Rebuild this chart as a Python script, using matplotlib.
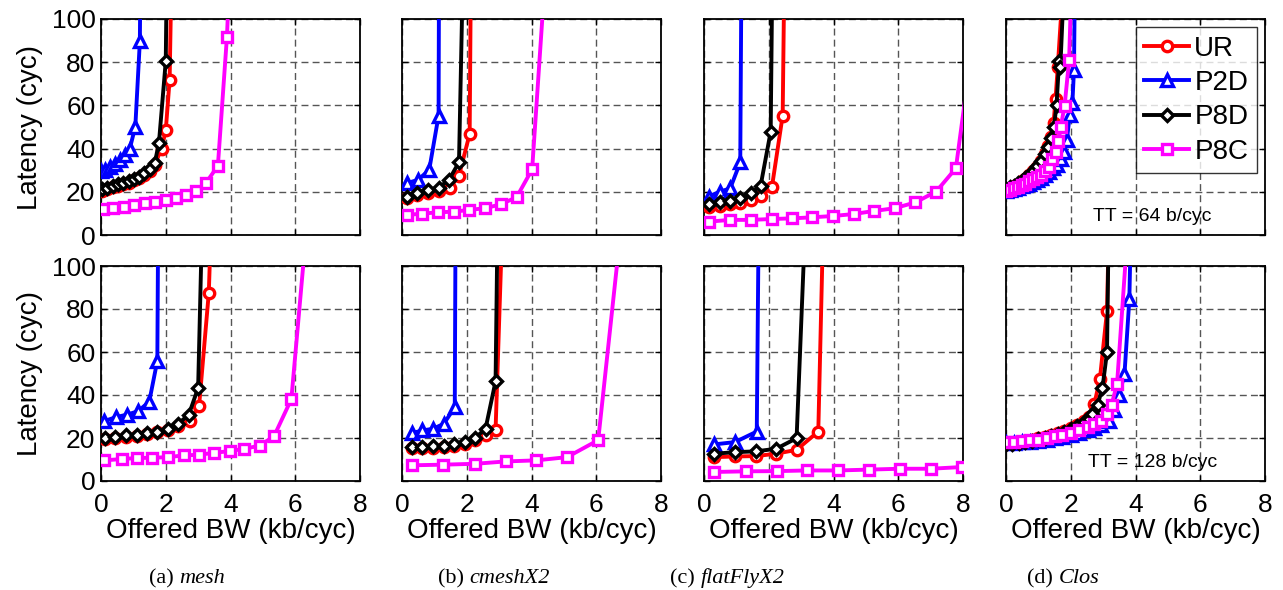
import numpy as np
import matplotlib
matplotlib.use('Agg')
import matplotlib.pyplot as plt

plt.rcParams['font.family'] = ['Liberation Sans', 'DejaVu Sans']

# ---------------- data ----------------
series_names = ['UR', 'P2D', 'P8D', 'P8C']
panel_names = ['mesh', 'cmeshX2', 'flatFlyX2', 'Clos']
panel_tags = ['(a)', '(b)', '(c)', '(d)']
row_notes = ['TT = 64 b/cyc', 'TT = 128 b/cyc']
x_ticks = [0, 2, 4, 6, 8]
y_ticks = [0, 20, 40, 60, 80, 100]

# top row: TT = 64 b/cyc   (last point of a curve sits above the 100 limit)
mesh64_ur_x = [0.02, 0.19, 0.36, 0.52, 0.69, 0.85, 1.02, 1.18, 1.33, 1.51, 1.66, 1.87, 2.0, 2.12, 2.16]
mesh64_ur_y = [20.5, 21.2, 22.0, 22.8, 23.6, 24.3, 25.3, 26.3, 27.9, 29.7, 32.5, 40.0, 48.4, 71.9, 106]
mesh64_p2d_x = [0.0, 0.12, 0.28, 0.43, 0.58, 0.74, 0.89, 1.06, 1.20, 1.21]
mesh64_p2d_y = [29.5, 30.2, 31.7, 33.0, 34.8, 37.0, 40.0, 50.2, 89.6, 106]
mesh64_p8d_x = [0.02, 0.19, 0.36, 0.52, 0.69, 0.85, 1.02, 1.18, 1.33, 1.51, 1.66, 1.79, 2.0, 2.02]
mesh64_p8d_y = [21.2, 21.9, 22.7, 23.5, 24.3, 25.0, 26.0, 27.0, 28.6, 30.4, 33.2, 42.8, 80.4, 106]
mesh64_p8c_x = [0.07, 0.38, 0.71, 1.03, 1.35, 1.68, 2.0, 2.33, 2.64, 2.94, 3.25, 3.61, 3.89, 3.93]
mesh64_p8c_y = [11.9, 12.5, 13.1, 13.9, 14.7, 15.5, 16.2, 17.2, 18.5, 20.4, 24.3, 32.0, 91.7, 106]

cmesh64_ur_x = [0.15, 0.47, 0.8, 1.13, 1.47, 1.76, 2.09, 2.12]
cmesh64_ur_y = [17.0, 18.3, 19.5, 20.5, 21.6, 27.5, 46.8, 106]
cmesh64_p2d_x = [0.15, 0.49, 0.84, 1.13, 1.14]
cmesh64_p2d_y = [24.0, 25.5, 30.1, 55.3, 106]
cmesh64_p8d_x = [0.15, 0.47, 0.8, 1.13, 1.45, 1.76, 1.86]
cmesh64_p8d_y = [17.8, 19.3, 20.9, 21.9, 25.5, 33.7, 106]
cmesh64_p8c_x = [0.15, 0.63, 1.11, 1.6, 2.07, 2.57, 3.05, 3.54, 4.02, 4.36]
cmesh64_p8c_y = [9.3, 9.9, 10.5, 10.8, 11.6, 12.4, 14.2, 17.5, 30.4, 106]

ffly64_ur_x = [0.16, 0.48, 0.79, 1.12, 1.45, 1.75, 2.1, 2.43, 2.47]
ffly64_ur_y = [13.1, 13.6, 14.2, 14.9, 16.0, 18.1, 22.4, 55.3, 106]
ffly64_p2d_x = [0.14, 0.48, 0.81, 1.12, 1.15]
ffly64_p2d_y = [17.8, 20.0, 21.6, 33.7, 106]
ffly64_p8d_x = [0.16, 0.48, 0.79, 1.12, 1.45, 1.75, 2.06, 2.1]
ffly64_p8d_y = [14.4, 15.1, 15.9, 17.0, 19.3, 22.9, 47.9, 106]
ffly64_p8c_x = [0.16, 0.81, 1.45, 2.09, 2.73, 3.35, 3.99, 4.62, 5.24, 5.89, 6.53, 7.17, 7.78, 8.45]
ffly64_p8c_y = [6.2, 7.0, 7.0, 7.4, 7.7, 8.2, 8.8, 9.7, 11.1, 12.4, 15.1, 20.1, 30.9, 106]

clos64_ur_x = [0.0, 0.12, 0.24, 0.36, 0.48, 0.6, 0.72, 0.84, 0.96, 1.08, 1.2, 1.3, 1.4, 1.47, 1.53, 1.6, 1.72]
clos64_ur_y = [21.0, 21.8, 22.7, 23.7, 24.8, 26.1, 27.6, 29.4, 31.6, 34.3, 37.6, 41.0, 45.5, 52.0, 63.0, 78.0, 106]
clos64_p2d_x = [0.0, 0.12, 0.24, 0.36, 0.48, 0.6, 0.72, 0.84, 0.96, 1.08, 1.2, 1.32, 1.44, 1.56, 1.69, 1.79, 1.88, 1.97, 2.05, 2.1, 2.12]
clos64_p2d_y = [20.5, 20.9, 21.4, 21.9, 22.5, 23.1, 23.8, 24.6, 25.5, 26.6, 27.8, 29.2, 30.8, 32.5, 35.0, 38.6, 44.0, 55.6, 61.0, 76.5, 106]
clos64_p8d_x = [0.0, 0.12, 0.24, 0.36, 0.48, 0.6, 0.72, 0.84, 0.96, 1.08, 1.2, 1.3, 1.4, 1.48, 1.56, 1.64, 1.68, 1.76]
clos64_p8d_y = [21.3, 22.0, 22.9, 23.9, 25.0, 26.3, 27.8, 29.6, 31.8, 34.4, 37.6, 40.8, 45.0, 50.0, 60.0, 80.4, 78.0, 106]
clos64_p8c_x = [0.0, 0.12, 0.24, 0.36, 0.48, 0.6, 0.72, 0.84, 0.96, 1.08, 1.22, 1.33, 1.43, 1.53, 1.62, 1.69, 1.81, 1.95, 2.0]
clos64_p8c_y = [20.5, 21.0, 21.6, 22.3, 23.0, 23.8, 24.8, 25.8, 26.9, 28.0, 29.4, 31.7, 35.0, 38.6, 43.3, 50.0, 59.8, 81.0, 106]

# bottom row: TT = 128 b/cyc
mesh128_ur_x = [0.12, 0.43, 0.77, 1.1, 1.43, 1.74, 2.07, 2.38, 2.74, 3.03, 3.33, 3.37]
mesh128_ur_y = [19.4, 19.9, 20.6, 21.1, 21.8, 22.6, 23.8, 25.8, 28.1, 35.0, 87.6, 106]
mesh128_p2d_x = [0.09, 0.46, 0.81, 1.15, 1.49, 1.74, 1.76]
mesh128_p2d_y = [27.8, 29.7, 30.9, 32.5, 36.9, 56.0, 106]
mesh128_p8d_x = [0.12, 0.43, 0.77, 1.1, 1.43, 1.74, 2.07, 2.38, 2.71, 3.0, 3.1]
mesh128_p8d_y = [19.9, 20.4, 21.2, 21.6, 22.3, 23.0, 24.3, 26.6, 30.8, 43.3, 106]
mesh128_p8c_x = [0.09, 0.64, 1.1, 1.59, 2.07, 2.55, 3.02, 3.49, 3.97, 4.43, 4.92, 5.35, 5.88, 6.28]
mesh128_p8c_y = [9.6, 10.2, 10.7, 10.8, 11.1, 11.9, 12.2, 13.1, 13.9, 15.0, 16.5, 21.0, 38.1, 106]

cmesh128_ur_x = [0.31, 0.63, 0.96, 1.29, 1.6, 1.94, 2.25, 2.58, 2.89, 3.07]
cmesh128_ur_y = [15.2, 15.2, 15.5, 15.9, 16.4, 17.3, 19.0, 21.5, 23.8, 106]
cmesh128_p2d_x = [0.31, 0.63, 0.96, 1.29, 1.63, 1.65]
cmesh128_p2d_y = [22.3, 23.5, 24.3, 26.6, 34.3, 106]
cmesh128_p8d_x = [0.31, 0.63, 0.96, 1.29, 1.6, 1.94, 2.25, 2.58, 2.89, 2.94]
cmesh128_p8d_y = [15.8, 15.8, 16.1, 16.5, 17.0, 18.1, 19.9, 24.3, 46.4, 106]
cmesh128_p8c_x = [0.31, 1.27, 2.25, 3.2, 4.15, 5.1, 6.06, 6.68]
cmesh128_p8c_y = [7.3, 7.6, 8.0, 9.1, 9.6, 11.1, 19.0, 106]

ffly128_ur_x = [0.32, 0.96, 1.61, 2.23, 2.86, 3.53, 3.66]
ffly128_ur_y = [11.1, 11.4, 11.6, 12.7, 14.5, 23.0, 106]
ffly128_p2d_x = [0.3, 0.96, 1.63, 1.68]
ffly128_p2d_y = [17.0, 18.1, 23.0, 106]
ffly128_p8d_x = [0.32, 0.96, 1.61, 2.23, 2.86, 3.09]
ffly128_p8d_y = [12.7, 13.4, 13.8, 15.0, 19.9, 106]
ffly128_p8c_x = [0.32, 1.3, 2.25, 3.17, 4.14, 5.1, 6.04, 7.0, 7.97]
ffly128_p8c_y = [4.2, 4.5, 4.6, 4.9, 4.9, 5.3, 5.7, 5.7, 6.5]

clos128_ur_x = [0.0, 0.2, 0.4, 0.6, 0.8, 1.0, 1.2, 1.4, 1.6, 1.8, 2.0, 2.2, 2.4, 2.55, 2.73, 2.9, 3.12, 3.16]
clos128_ur_y = [17.4, 17.8, 18.2, 18.7, 19.2, 19.8, 20.5, 21.3, 22.2, 23.3, 24.5, 26.0, 27.8, 30.0, 35.9, 47.4, 79.0, 106]
clos128_p2d_x = [0.0, 0.24, 0.49, 0.75, 1.0, 1.26, 1.5, 1.74, 2.0, 2.25, 2.52, 2.73, 2.93, 3.19, 3.35, 3.5, 3.66, 3.81, 3.84]
clos128_p2d_y = [17.5, 17.7, 18.0, 18.3, 18.7, 19.2, 19.8, 20.5, 21.3, 22.3, 23.5, 24.8, 26.0, 28.1, 32.8, 40.2, 49.8, 84.5, 106]
clos128_p8d_x = [0.0, 0.2, 0.4, 0.6, 0.8, 1.0, 1.2, 1.4, 1.6, 1.8, 2.0, 2.2, 2.4, 2.55, 2.67, 2.83, 2.98, 3.12, 3.16]
clos128_p8d_y = [17.0, 17.4, 17.8, 18.3, 18.8, 19.4, 20.1, 20.9, 21.8, 22.9, 24.1, 25.6, 27.3, 29.0, 31.2, 35.5, 43.3, 60.0, 106]
clos128_p8c_x = [0.0, 0.24, 0.49, 0.75, 1.0, 1.26, 1.5, 1.74, 2.0, 2.25, 2.52, 2.73, 2.93, 3.12, 3.26, 3.43, 3.71]
clos128_p8c_y = [18.2, 18.2, 18.7, 18.9, 19.2, 20.0, 20.7, 21.5, 22.3, 23.5, 25.0, 26.6, 27.8, 31.2, 35.5, 45.1, 106]

rows = [
    [[(mesh64_ur_x, mesh64_ur_y), (mesh64_p2d_x, mesh64_p2d_y), (mesh64_p8d_x, mesh64_p8d_y), (mesh64_p8c_x, mesh64_p8c_y)],
     [(cmesh64_ur_x, cmesh64_ur_y), (cmesh64_p2d_x, cmesh64_p2d_y), (cmesh64_p8d_x, cmesh64_p8d_y), (cmesh64_p8c_x, cmesh64_p8c_y)],
     [(ffly64_ur_x, ffly64_ur_y), (ffly64_p2d_x, ffly64_p2d_y), (ffly64_p8d_x, ffly64_p8d_y), (ffly64_p8c_x, ffly64_p8c_y)],
     [(clos64_ur_x, clos64_ur_y), (clos64_p2d_x, clos64_p2d_y), (clos64_p8d_x, clos64_p8d_y), (clos64_p8c_x, clos64_p8c_y)]],
    [[(mesh128_ur_x, mesh128_ur_y), (mesh128_p2d_x, mesh128_p2d_y), (mesh128_p8d_x, mesh128_p8d_y), (mesh128_p8c_x, mesh128_p8c_y)],
     [(cmesh128_ur_x, cmesh128_ur_y), (cmesh128_p2d_x, cmesh128_p2d_y), (cmesh128_p8d_x, cmesh128_p8d_y), (cmesh128_p8c_x, cmesh128_p8c_y)],
     [(ffly128_ur_x, ffly128_ur_y), (ffly128_p2d_x, ffly128_p2d_y), (ffly128_p8d_x, ffly128_p8d_y), (ffly128_p8c_x, ffly128_p8c_y)],
     [(clos128_ur_x, clos128_ur_y), (clos128_p2d_x, clos128_p2d_y), (clos128_p8d_x, clos128_p8d_y), (clos128_p8c_x, clos128_p8c_y)]],
]

# ---------------- styling ----------------
colors = ['#ff0000', '#0000ff', '#000000', '#ff00ff']
markers = ['o', '^', 'D', 's']
msizes = [7.5, 8.5, 6.5, 6.5]

W, H = 1283, 590
fig = plt.figure(figsize=(W / 100, H / 100), dpi=100)

# axes boxes in pixels: left edges, width; row top/bottom
lefts = [101, 402, 704, 1006]
ax_w = 259
row_px = [(19, 235), (266, 481)]

for r in range(2):
    top, bot = row_px[r]
    for c in range(4):
        ax = fig.add_axes([lefts[c] / W, 1 - bot / H, ax_w / W, (bot - top) / H])
        for s in range(4):
            xs, ys = rows[r][c][s]
            ax.plot(xs, ys, color=colors[s], lw=2.8, marker=markers[s], ms=msizes[s],
                    mfc='white', mec=colors[s], mew=2.4, label=series_names[s], zorder=3 + s)
        ax.set_xlim(0, 8)
        ax.set_ylim(0, 100)
        ax.set_xticks(x_ticks)
        ax.set_yticks(y_ticks)
        ax.grid(True, linestyle=(0, (5, 3)), color='#555555', lw=1.0)
        ax.set_axisbelow(True)
        ax.tick_params(direction='in', top=True, right=True, length=4, width=1,
                       labelsize=19, pad=4)
        ax.tick_params(axis='x', pad=9)
        for sp in ax.spines.values():
            sp.set_linewidth(1.3)
        if r == 0:
            ax.set_xticklabels([])
        else:
            ax.set_xlabel('Offered BW (kb/cyc)', fontsize=20, labelpad=0)
        if c != 0:
            ax.set_yticklabels([])
        else:
            fig.text(30 / W, 1 - (top + bot) / 2 / H, 'Latency (cyc)', rotation=90,
                     ha='center', va='center', fontsize=20)
        if c == 3:
            ax.text(0.565, 0.085, row_notes[r], transform=ax.transAxes,
                    ha='center', va='center', fontsize=14)
            if r == 0:
                leg = ax.legend(loc='upper right', fontsize=20, frameon=True, fancybox=False,
                                borderaxespad=0.3, handlelength=1.6, handletextpad=0.2,
                                labelspacing=0.3, borderpad=0.3)
                leg.get_frame().set_edgecolor('black')
                leg.get_frame().set_linewidth(1.0)
                leg.set_zorder(20)

# captions under each column: upright tag followed by the italic name
cap_x = [149, 438, 670, 1027]
for c in range(4):
    tag = fig.text(cap_x[c] / W, 1 - 588 / H, panel_tags[c], ha='left', va='bottom',
                   fontsize=16, family='Liberation Serif')
    ax.annotate(panel_names[c], xy=(1, 0), xycoords=tag, xytext=(4, 0),
                textcoords='offset points', ha='left', va='bottom', fontsize=16,
                family='Liberation Serif', style='italic', annotation_clip=False)

fig.savefig('out.png', dpi=100)
